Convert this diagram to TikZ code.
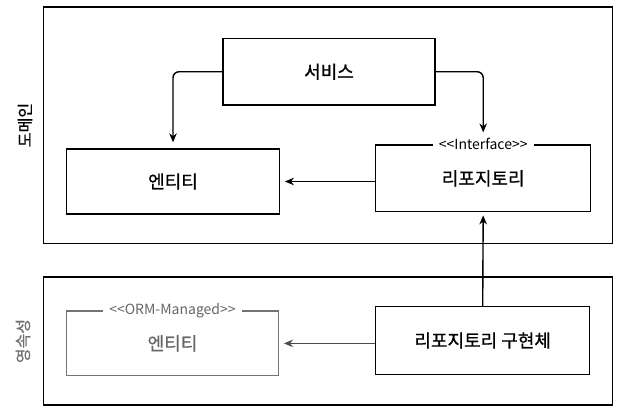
\documentclass[tikz,border=0pt]{standalone}
\usepackage{fontspec}
\setmainfont{Noto Sans CJK KR}
\newfontfamily\kr{Noto Sans CJK KR}
\newfontfamily\krm[FakeBold=0.8]{Noto Sans CJK KR}
\usetikzlibrary{arrows.meta}
\begin{document}
\begin{tikzpicture}[x=1pt,y=-1pt,
  box/.style={draw, line width=1.3pt, minimum width=#1, inner sep=0pt, font=\krm\fontsize{18}{20}\selectfont},
  layer/.style={draw, line width=1.3pt},
  conn/.style={line width=1.4pt, -{Stealth[length=9pt,width=7.5pt]}},
  stereo/.style={fill=white, inner xsep=6pt, inner ysep=1pt, font=\kr\fontsize{14}{16}\selectfont},
  side/.style={rotate=90, font=\krm\fontsize{16}{18}\selectfont},
  faded/.style={draw=black!55, text=black!60}
]
\useasboundingbox (0,0) rectangle (624,411);
\fill[white] (0,0) rectangle (624,411);
% layers
\draw[layer] (43.5,7) rectangle (612.5,243.5);
\draw[layer] (43.5,277) rectangle (612.3,405);
\node[side] (domlabel) at (25,125) {도메인};
\node[side, text=black!55] (perlabel) at (23,341) {영속성};
% nodes
\node[box=212pt, minimum height=66.5pt] (service) at (329,71.75) {서비스};
\node[box=212.6pt, minimum height=65pt] (entity) at (173,181.5) {엔티티};
\node[box=215pt, minimum height=66.7pt] (repo) at (483.2,178.4) {리포지토리};
\node[box=211.6pt, minimum height=64.7pt, faded] (orm) at (172.5,343.4) {엔티티};
\node[box=214pt, minimum height=67.6pt] (impl) at (482.7,340.5) {리포지토리 구현체};
\node[stereo] (ifacelabel) at (repo.north) {<<Interface>>};
\node[stereo, text=black!60] (ormlabel) at (orm.north) {<<ORM-Managed>>};
% connectors
\draw[conn, rounded corners=6pt, shorten >=6pt] (service.west) -| (entity.north);
\draw[conn, rounded corners=6pt, shorten >=12pt] (service.east) -| (repo.north);
\draw[conn, shorten >=5pt] (repo.west |- entity.east) -- (entity.east);
\draw[conn, shorten >=3pt] (impl.north) -- (repo.south);
\draw[conn, draw=black!70, fill=black!70, shorten >=5pt] (impl.west |- orm.east) -- (orm.east);
\end{tikzpicture}
\end{document}
